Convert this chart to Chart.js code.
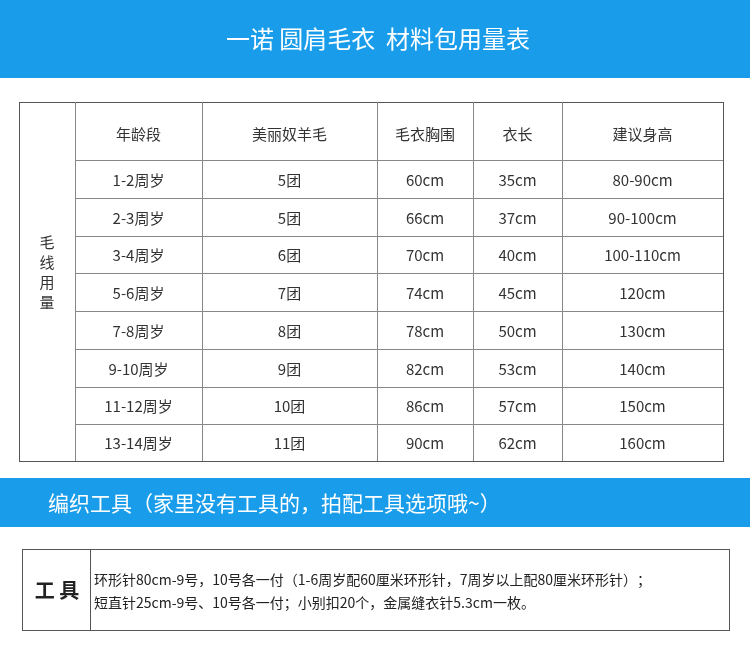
<!DOCTYPE html>
<html><head><meta charset="utf-8">
<script src="https://cdn.jsdelivr.net/npm/chart.js@4/dist/chart.umd.min.js"></script>
<style>html,body{margin:0;padding:0;background:#fff;}canvas{display:block}</style>
</head><body>
<canvas id="c" width="750" height="658"></canvas>
<script>
const title = "一诺 圆肩毛衣  材料包用量表";
const sideLabel = ["毛","线","用","量"];
const headers = ["年龄段","美丽奴羊毛","毛衣胸围","衣长","建议身高"];
const ages = ["1-2周岁","2-3周岁","3-4周岁","5-6周岁","7-8周岁","9-10周岁","11-12周岁","13-14周岁"];
const yarn = ["5团","5团","6团","7团","8团","9团","10团","11团"];
const chest = ["60cm","66cm","70cm","74cm","78cm","82cm","86cm","90cm"];
const lengthV = ["35cm","37cm","40cm","45cm","50cm","53cm","57cm","62cm"];
const height = ["80-90cm","90-100cm","100-110cm","120cm","130cm","140cm","150cm","160cm"];
const toolTitle = "编织工具（家里没有工具的，拍配工具选项哦~）";
const toolLabel = "工 具";
const toolLines = ["环形针80cm-9号，10号各一付（1-6周岁配60厘米环形针，7周岁以上配80厘米环形针）；","短直针25cm-9号、10号各一付；小别扣20个，金属缝衣针5.3cm一枚。"];

const colEdges = [19,75,202,377,473,562,723];
const rowEdges = [102,160,198,236,273,311,349,387,424,461];
const BLUE = "#199deb";
const FONT = '"Noto Sans CJK SC","Noto Sans",sans-serif';

const tablePlugin = {
  id:'table',
  afterDraw(chart){
    const ctx = chart.ctx, X = chart.scales.x, Y = chart.scales.y;
    const px = v=>X.getPixelForValue(v), py = v=>Y.getPixelForValue(v);
    ctx.save();
    // header band
    ctx.fillStyle = BLUE; ctx.fillRect(px(0),py(0),px(750)-px(0),py(78)-py(0));
    ctx.fillStyle="#fff"; ctx.font='24px '+FONT; ctx.textAlign='center'; ctx.textBaseline='middle';
    ctx.fillText(title, px(378), py(39));
    // table lines
    ctx.strokeStyle="#555"; ctx.lineWidth=1;
    const L=colEdges[0], R=colEdges[colEdges.length-1], T=rowEdges[0], B=rowEdges[rowEdges.length-1];
    ctx.strokeRect(px(L)+0.5,py(T)+0.5,px(R)-px(L),py(B)-py(T));
    ctx.strokeStyle="#888";
    rowEdges.slice(1,-1).forEach(r=>{ctx.beginPath();ctx.moveTo(px(colEdges[1]),py(r)+0.5);ctx.lineTo(px(R),py(r)+0.5);ctx.stroke();});
    colEdges.slice(1,-1).forEach(c=>{ctx.beginPath();ctx.moveTo(px(c)+0.5,py(T));ctx.lineTo(px(c)+0.5,py(B));ctx.stroke();});
    // side label
    ctx.fillStyle="#333"; ctx.font='15px '+FONT;
    sideLabel.forEach((s,i)=>ctx.fillText(s, px(47), py(242+i*20)));
    // headers
    const cols=[ages,yarn,chest,lengthV,height];
    headers.forEach((h,i)=>ctx.fillText(h, px((colEdges[i+1]+colEdges[i+2])/2), py(134)));
    cols.forEach((col,i)=>col.forEach((v,j)=>{
      ctx.fillText(v, px((colEdges[i+1]+colEdges[i+2])/2), py((rowEdges[j+1]+rowEdges[j+2])/2+1));
    }));
    // tool band
    ctx.fillStyle=BLUE; ctx.fillRect(px(0),py(478),px(750)-px(0),py(527)-py(478));
    ctx.fillStyle="#fff"; ctx.font='21px '+FONT; ctx.textAlign='left';
    ctx.fillText(toolTitle, px(48), py(503));
    // tool box
    ctx.strokeStyle="#555";
    ctx.strokeRect(px(22)+0.5,py(549)+0.5,px(729)-px(22),py(630)-py(549));
    ctx.beginPath();ctx.moveTo(px(90)+0.5,py(549));ctx.lineTo(px(90)+0.5,py(630));ctx.stroke();
    ctx.fillStyle="#222"; ctx.font='bold 20px '+FONT; ctx.textAlign='center';
    ctx.fillText(toolLabel, px(57), py(590));
    ctx.font='14px '+FONT; ctx.textAlign='left'; ctx.fillStyle="#222";
    toolLines.forEach((t,i)=>ctx.fillText(t, px(94), py(580+i*23)));
    ctx.restore();
  }
};

new Chart(document.getElementById('c'),{
  type:'scatter',
  data:{datasets:[{data:[]}]},
  options:{
    responsive:false, animation:false,
    layout:{padding:0},
    plugins:{legend:{display:false},tooltip:{enabled:false}},
    scales:{
      x:{type:'linear',min:0,max:750,display:false},
      y:{type:'linear',min:0,max:658,reverse:true,display:false}
    }
  },
  plugins:[tablePlugin]
});
</script>
</body></html>
